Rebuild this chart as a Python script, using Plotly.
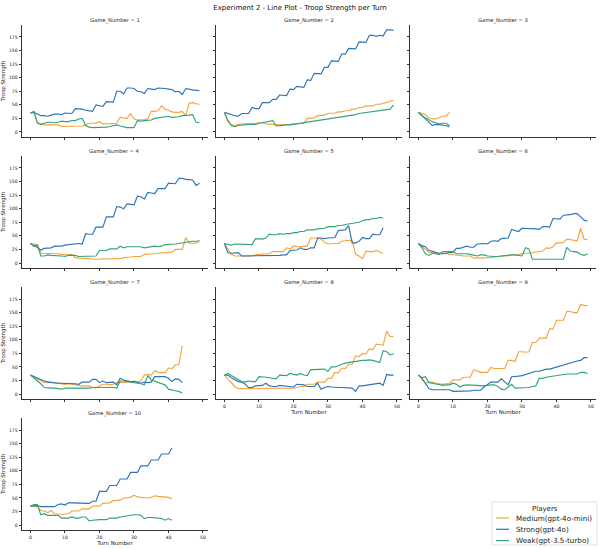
import plotly.graph_objects as go
from plotly.subplots import make_subplots

# Troop strength per turn (one list per game and player)
g1_medium = [35, 36, 16, 14, 13, 13, 13, 12, 13, 10, 10, 10, 10, 10, 10, 11, 13, 16, 16, 16,
             19, 15, 15, 15, 16, 16, 27, 26, 25, 34, 24, 22, 22, 23, 24, 38, 38, 39, 48, 42,
             40, 37, 36, 36, 38, 30, 53, 54, 52, 51]
g1_strong = [35, 36, 33, 30, 30, 29, 31, 33, 33, 32, 35, 35, 34, 43, 43, 42, 40, 39, 38, 50,
             48, 47, 56, 55, 55, 75, 75, 70, 81, 81, 80, 75, 74, 71, 80, 79, 78, 81, 81, 80,
             79, 78, 74, 75, 69, 80, 79, 77, 77, 76]
g1_weak = [35, 38, 17, 14, 16, 18, 18, 17, 18, 20, 19, 19, 21, 21, 24, 25, 12, 9, 8, 8,
           8, 8, 9, 10, 11, 13, 11, 9, 8, 8, 8, 21, 20, 21, 22, 22, 25, 26, 26, 27,
           29, 27, 27, 28, 30, 30, 31, 32, 18, 17]

g2_medium = [36, 22, 13, 12, 14, 15, 15, 15, 15, 16, 17, 17, 15, 15, 14, 13, 13, 13, 13, 14,
             15, 15, 16, 16, 25, 26, 26, 30, 30, 31, 34, 34, 35, 37, 37, 39, 39, 42, 42, 45,
             45, 48, 48, 48, 51, 51, 53, 54, 57, 58]
g2_strong = [36, 34, 31, 30, 29, 34, 34, 34, 45, 43, 43, 54, 54, 54, 60, 60, 68, 68, 67, 79,
             78, 84, 83, 82, 96, 95, 108, 108, 107, 119, 119, 131, 131, 130, 144, 143, 154, 154, 153, 166,
             165, 165, 178, 178, 176, 178, 177, 188, 188, 187]
g2_weak = [35, 20, 12, 10, 12, 13, 13, 14, 14, 14, 16, 17, 18, 20, 21, 11, 12, 13, 13, 13,
           14, 15, 16, 17, 18, 19, 20, 21, 21, 23, 24, 24, 26, 27, 28, 29, 30, 31, 32, 34,
           35, 36, 37, 38, 39, 40, 41, 41, 42, 50]

g3_medium = [36, 34, 32, 26, 24, 24, 26, 29, 29, 36]
g3_strong = [36, 30, 23, 18, 12, 14, 13, 13, 12, 9]
g3_weak = [36, 30, 26, 22, 19, 17, 15, 16, 16, 12]

g4_medium = [36, 35, 34, 18, 18, 18, 18, 17, 17, 16, 15, 15, 16, 10, 9, 9, 9, 8, 7, 7,
             7, 7, 7, 7, 7, 7, 8, 10, 10, 11, 12, 12, 12, 16, 16, 17, 17, 18, 18, 19,
             20, 20, 25, 25, 25, 47, 37, 36, 37, 40]
g4_strong = [36, 31, 29, 24, 27, 27, 28, 31, 31, 31, 33, 34, 35, 36, 36, 35, 54, 53, 53, 66,
             66, 66, 85, 85, 85, 104, 103, 100, 109, 108, 107, 123, 122, 118, 130, 129, 128, 137, 137, 137,
             147, 146, 146, 156, 156, 154, 153, 153, 143, 147]
g4_weak = [36, 32, 33, 13, 13, 15, 14, 14, 14, 13, 12, 14, 14, 14, 12, 12, 12, 12, 13, 13,
           23, 23, 23, 26, 26, 26, 31, 28, 30, 30, 30, 31, 30, 28, 29, 29, 31, 30, 31, 34,
           34, 35, 35, 36, 37, 38, 40, 40, 40, 41]

g5_medium = [36, 25, 16, 13, 13, 13, 13, 13, 13, 15, 16, 17, 17, 17, 21, 21, 21, 21, 28, 26,
             31, 30, 30, 31, 31, 46, 46, 46, 44, 38, 35, 36, 36, 36, 40, 41, 42, 42, 16, 13,
             8, 22, 21, 21, 23, 21, 18]
g5_strong = [36, 19, 18, 18, 19, 13, 13, 13, 13, 13, 14, 14, 14, 14, 14, 14, 14, 15, 15, 23,
             23, 24, 28, 25, 25, 28, 28, 46, 46, 45, 46, 46, 47, 60, 61, 61, 69, 37, 37, 40,
             47, 45, 45, 53, 52, 52, 65]
g5_weak = [36, 35, 33, 35, 35, 35, 34, 34, 34, 45, 44, 44, 46, 53, 52, 52, 54, 53, 54, 54,
           56, 56, 58, 58, 61, 61, 61, 63, 64, 64, 67, 67, 67, 69, 69, 71, 72, 72, 74, 75,
           78, 80, 80, 82, 82, 84, 83]

g6_medium = [36, 31, 25, 20, 19, 19, 19, 18, 17, 16, 16, 14, 13, 13, 13, 13, 9, 9, 10, 10,
             10, 10, 11, 12, 13, 14, 13, 15, 15, 16, 18, 18, 18, 19, 20, 20, 22, 28, 27, 30,
             37, 37, 38, 44, 43, 42, 41, 64, 44, 43]
g6_strong = [36, 32, 30, 23, 22, 20, 17, 17, 18, 20, 20, 27, 27, 29, 31, 29, 29, 35, 36, 36,
             35, 40, 41, 40, 45, 45, 46, 62, 60, 58, 64, 64, 64, 63, 63, 62, 67, 67, 66, 82,
             82, 81, 88, 88, 89, 91, 91, 85, 79, 77]
g6_weak = [36, 28, 17, 14, 18, 17, 16, 21, 21, 20, 21, 17, 17, 18, 17, 16, 14, 13, 15, 15,
           13, 12, 12, 12, 13, 14, 14, 15, 15, 14, 13, 28, 26, 7, 7, 7, 8, 8, 8, 7,
           7, 7, 7, 29, 22, 21, 20, 16, 14, 17]

g7_medium = [35, 31, 28, 25, 21, 23, 22, 20, 19, 18, 18, 19, 18, 17, 15, 15, 15, 15, 12, 11,
             15, 18, 18, 17, 18, 21, 21, 22, 22, 22, 24, 23, 24, 35, 36, 35, 43, 40, 39, 39,
             48, 47, 54, 54, 89]
g7_strong = [35, 32, 29, 27, 24, 22, 21, 21, 20, 20, 20, 20, 20, 19, 18, 22, 22, 22, 27, 27,
             21, 24, 21, 21, 22, 17, 29, 26, 24, 23, 23, 22, 20, 22, 21, 22, 32, 32, 32, 32,
             29, 23, 28, 27, 21]
g7_weak = [35, 30, 25, 19, 12, 11, 11, 11, 10, 9, 11, 11, 11, 11, 10, 10, 11, 11, 12, 12,
           12, 13, 13, 13, 12, 11, 24, 24, 23, 23, 22, 21, 19, 17, 34, 26, 24, 22, 20, 17,
           9, 7, 6, 5, 2]

g8_medium = [35, 28, 20, 14, 10, 10, 11, 11, 11, 11, 11, 11, 11, 11, 11, 11, 11, 11, 11, 11,
             11, 12, 14, 14, 18, 18, 18, 22, 22, 22, 29, 29, 40, 39, 48, 47, 55, 55, 70, 69,
             75, 74, 83, 82, 92, 91, 90, 116, 106, 106]
g8_strong = [35, 35, 30, 26, 23, 22, 18, 12, 12, 15, 16, 16, 20, 15, 14, 14, 16, 15, 15, 13,
             13, 18, 17, 17, 14, 14, 14, 20, 9, 12, 14, 13, 12, 12, 12, 12, 12, 11, 5, 15,
             15, 16, 17, 18, 19, 20, 16, 36, 35, 35]
g8_weak = [35, 38, 34, 30, 26, 23, 22, 24, 23, 23, 32, 32, 31, 30, 29, 28, 35, 34, 34, 38,
           36, 35, 38, 35, 34, 45, 45, 45, 45, 46, 42, 50, 50, 53, 55, 57, 58, 60, 61, 61,
           62, 62, 63, 62, 60, 58, 80, 78, 72, 74]

g9_medium = [35, 27, 20, 22, 22, 20, 19, 18, 19, 20, 26, 26, 26, 31, 31, 31, 45, 42, 40, 40,
             40, 49, 47, 47, 47, 47, 62, 62, 60, 78, 78, 77, 78, 95, 95, 103, 103, 103, 120, 120,
             136, 136, 136, 152, 152, 150, 150, 165, 163, 163]
g9_strong = [35, 29, 20, 10, 8, 8, 8, 9, 9, 8, 5, 5, 6, 6, 6, 6, 7, 7, 7, 13,
             17, 22, 22, 22, 28, 22, 17, 32, 32, 33, 34, 36, 38, 40, 42, 42, 44, 46, 46, 48,
             50, 51, 53, 55, 57, 59, 61, 62, 67, 67]
g9_weak = [35, 30, 32, 21, 20, 19, 18, 16, 17, 17, 20, 18, 13, 16, 17, 17, 16, 16, 15, 15,
           16, 17, 17, 14, 9, 8, 13, 18, 11, 11, 11, 11, 12, 14, 15, 29, 29, 31, 32, 33,
           34, 36, 37, 37, 37, 37, 37, 40, 40, 38]

g10_medium = [35, 35, 34, 27, 26, 23, 27, 21, 20, 20, 20, 21, 26, 26, 26, 30, 30, 30, 35, 35,
              35, 40, 40, 41, 45, 45, 46, 50, 50, 51, 55, 52, 51, 50, 50, 51, 54, 53, 52, 52,
              51, 48]
g10_strong = [35, 36, 36, 34, 34, 34, 35, 34, 38, 39, 37, 41, 41, 41, 41, 40, 40, 40, 44, 44,
              62, 62, 62, 73, 73, 73, 85, 85, 85, 97, 97, 97, 109, 109, 109, 120, 120, 120, 131, 131,
              131, 142]
g10_weak = [35, 38, 38, 19, 21, 18, 18, 18, 18, 13, 13, 13, 15, 13, 13, 15, 15, 8, 9, 10,
            10, 10, 10, 13, 13, 13, 15, 16, 18, 19, 19, 19, 18, 12, 14, 14, 14, 13, 12, 9,
            12, 9]

players = ["Medium(gpt-4o-mini)", "Strong(gpt-4o)", "Weak(gpt-3.5-turbo)"]
colors = ["#F4A53C", "#2C73B8", "#30A57C"]
y_ticks = [0, 25, 50, 75, 100, 125, 150, 175]
x_ticks = [0, 10, 20, 30, 40, 50]

games = [
    (g1_medium, g1_strong, g1_weak), (g2_medium, g2_strong, g2_weak),
    (g3_medium, g3_strong, g3_weak), (g4_medium, g4_strong, g4_weak),
    (g5_medium, g5_strong, g5_weak), (g6_medium, g6_strong, g6_weak),
    (g7_medium, g7_strong, g7_weak), (g8_medium, g8_strong, g8_weak),
    (g9_medium, g9_strong, g9_weak), (g10_medium, g10_strong, g10_weak),
]

FONT = "DejaVu Sans"
AXCOL = "#333333"
W, H = 600, 549
ML, MR, MT, MB = 22, 4, 25, 19

specs = [[{}, {}, {}], [{}, {}, {}], [{}, {}, {}], [{}, None, None]]
fig = make_subplots(rows=4, cols=3, specs=specs,
                    horizontal_spacing=0.014, vertical_spacing=0.038,
                    subplot_titles=[f"Game_Number = {i + 1}" for i in range(len(games))])

for gi, series in enumerate(games):
    r, c = gi // 3 + 1, gi % 3 + 1
    for si, vals in enumerate(series):
        fig.add_trace(go.Scatter(x=list(range(len(vals))), y=vals, mode="lines",
                                 line=dict(color=colors[si], width=1.15),
                                 name=players[si], showlegend=False), row=r, col=c)
    # tick labels only on the outer panels, like seaborn's relplot
    show_x = gi in (7, 8, 9)
    show_y = c == 1
    fig.update_xaxes(range=[-2.45, 51.45], tickvals=x_ticks, showticklabels=show_x,
                     title=dict(text="Turn Number" if show_x else "", standoff=1,
                                font=dict(size=5.5)),
                     row=r, col=c)
    fig.update_yaxes(range=[-9, 197], tickvals=y_ticks, showticklabels=show_y,
                     title=dict(text="Troop Strength" if show_y else "", standoff=2,
                                font=dict(size=5.5)),
                     row=r, col=c)

fig.update_xaxes(showgrid=False, zeroline=False, showline=True, linecolor=AXCOL, linewidth=0.8,
                 ticks="outside", ticklen=2.5, tickwidth=0.8, tickcolor=AXCOL,
                 tickfont=dict(size=4.6, color="#222222"))
fig.update_yaxes(showgrid=False, zeroline=False, showline=True, linecolor=AXCOL, linewidth=0.8,
                 ticks="outside", ticklen=2.5, tickwidth=0.8, tickcolor=AXCOL,
                 tickfont=dict(size=4.6, color="#222222"))

for ann in fig.layout.annotations:
    ann.font = dict(size=5.2, color="#222222", family=FONT)
    ann.yshift = -1


# legend drawn by hand (plotly's own legend rows are far taller than the reference's)
def px_x(px):
    return (px - ML) / (W - ML - MR)


def px_y(py):
    return (H - MB - py) / (H - MT - MB)


fig.add_shape(type="rect", xref="paper", yref="paper",
              x0=px_x(492), x1=px_x(597), y0=px_y(545), y1=px_y(502),
              line=dict(color="#d9d9d9", width=0.8), fillcolor="white", layer="above")
fig.add_annotation(text="Players", xref="paper", yref="paper", x=px_x(544.5), y=px_y(508.5),
                   showarrow=False, xanchor="center", yanchor="middle",
                   font=dict(size=7, color="#222222", family=FONT))
for i, name in enumerate(players):
    yy = px_y(518 + i * 11.3)
    fig.add_shape(type="line", xref="paper", yref="paper",
                  x0=px_x(496), x1=px_x(509), y0=yy, y1=yy,
                  line=dict(color=colors[i], width=1.2), layer="above")
    fig.add_annotation(text=name, xref="paper", yref="paper", x=px_x(514), y=yy,
                       showarrow=False, xanchor="left", yanchor="middle",
                       font=dict(size=7.2, color="#222222", family=FONT))

fig.update_layout(
    width=W, height=H,
    margin=dict(l=ML, r=MR, t=MT, b=MB),
    paper_bgcolor="white", plot_bgcolor="white",
    font=dict(family=FONT, color="#222222"),
    showlegend=False,
    title=dict(text="Experiment 2 - Line Plot - Troop Strength per Turn",
               x=0.5, xanchor="center", y=1 - 7.5 / H, yanchor="middle",
               font=dict(size=7, color="#111111")),
)

# the page's default body margin would push the 600x549 figure off the window
fig.write_html("out.html", config={"displayModeBar": False},
               post_script="document.body.style.margin = '0px';")
